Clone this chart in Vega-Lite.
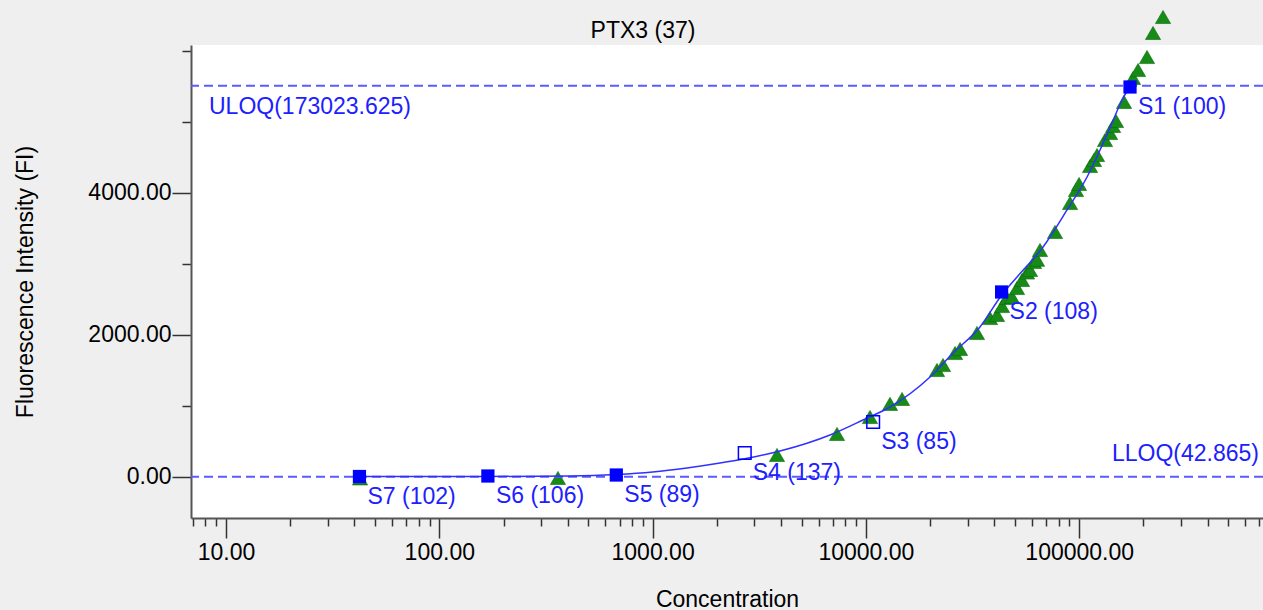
{
  "$schema": "https://vega.github.io/schema/vega-lite/v6.json",
  "width": 1072,
  "height": 473,
  "autosize": {"type": "none"},
  "padding": {"left": 191, "top": 45, "right": 0, "bottom": 92},
  "background": "#efefef",
  "config": {
    "font": "Liberation Sans",
    "view": {"fill": "white", "stroke": null}
  },
  "title": {
    "text": "PTX3 (37)",
    "fontSize": 23,
    "fontWeight": "normal",
    "color": "black",
    "anchor": "middle",
    "frame": "group",
    "dx": -84,
    "dy": 60,
    "offset": 8,
    "baseline": "alphabetic"
  },
  "datasets": {
    "limits": [
      {"limit": "ULOQ", "fi": 5512, "label": "ULOQ(173023.625)", "conc": 8.325},
      {"limit": "LLOQ", "fi": 4, "label": "LLOQ(42.865)", "conc": 696000}
    ],
    "curve": [
      {"conc": 42.24, "fi": 7},
      {"conc": 167.3, "fi": 7},
      {"conc": 410, "fi": 14},
      {"conc": 675.9, "fi": 35},
      {"conc": 1000, "fi": 70},
      {"conc": 1450, "fi": 127},
      {"conc": 2070, "fi": 197},
      {"conc": 2703.5, "fi": 258},
      {"conc": 3956, "fi": 366},
      {"conc": 6787, "fi": 592},
      {"conc": 9692, "fi": 803},
      {"conc": 12970, "fi": 986},
      {"conc": 19980, "fi": 1408},
      {"conc": 25610, "fi": 1746},
      {"conc": 34260, "fi": 2113},
      {"conc": 43256, "fi": 2560},
      {"conc": 51100, "fi": 2817},
      {"conc": 67670, "fi": 3239},
      {"conc": 87660, "fi": 3761},
      {"conc": 108800, "fi": 4225},
      {"conc": 125200, "fi": 4606},
      {"conc": 142500, "fi": 4986},
      {"conc": 158700, "fi": 5310},
      {"conc": 173024, "fi": 5500}
    ],
    "samples": [
      {"conc": 42.5, "fi": -20},
      {"conc": 360, "fi": -14},
      {"conc": 3830, "fi": 310},
      {"conc": 7320, "fi": 606},
      {"conc": 10450, "fi": 845},
      {"conc": 12970, "fi": 1030},
      {"conc": 14770, "fi": 1099},
      {"conc": 21540, "fi": 1507},
      {"conc": 22990, "fi": 1577},
      {"conc": 26170, "fi": 1746},
      {"conc": 27630, "fi": 1803},
      {"conc": 33170, "fi": 2028},
      {"conc": 38170, "fi": 2239},
      {"conc": 41180, "fi": 2282},
      {"conc": 43470, "fi": 2408},
      {"conc": 45870, "fi": 2521},
      {"conc": 48420, "fi": 2535},
      {"conc": 51100, "fi": 2662},
      {"conc": 53930, "fi": 2775},
      {"conc": 56930, "fi": 2880},
      {"conc": 58800, "fi": 2915},
      {"conc": 61400, "fi": 3028},
      {"conc": 63420, "fi": 3060},
      {"conc": 65500, "fi": 3197},
      {"conc": 77000, "fi": 3451},
      {"conc": 90560, "fi": 3859},
      {"conc": 96600, "fi": 4042},
      {"conc": 99800, "fi": 4127},
      {"conc": 112400, "fi": 4380},
      {"conc": 117300, "fi": 4465},
      {"conc": 121200, "fi": 4535},
      {"conc": 132100, "fi": 4746},
      {"conc": 139500, "fi": 4845},
      {"conc": 144100, "fi": 4944},
      {"conc": 148800, "fi": 5014},
      {"conc": 162200, "fi": 5282},
      {"conc": 178800, "fi": 5620},
      {"conc": 188700, "fi": 5732},
      {"conc": 207900, "fi": 5915},
      {"conc": 221800, "fi": 6254},
      {"conc": 247100, "fi": 6479}
    ],
    "standards": [
      {"name": "S1", "conc": 173023.625, "fi": 5493, "label": "S1 (100)", "status": "ok"},
      {"name": "S2", "conc": 43255.9, "fi": 2606, "label": "S2 (108)", "status": "ok"},
      {"name": "S3", "conc": 10813.98, "fi": 775, "label": "S3 (85)", "status": "excluded"},
      {"name": "S4", "conc": 2703.5, "fi": 338, "label": "S4 (137)", "status": "excluded"},
      {"name": "S5", "conc": 675.87, "fi": 28, "label": "S5 (89)", "status": "ok"},
      {"name": "S6", "conc": 168.97, "fi": 14, "label": "S6 (106)", "status": "ok"},
      {"name": "S7", "conc": 42.24, "fi": 7, "label": "S7 (102)", "status": "ok"}
    ]
  },
  "layer": [
    {
      "data": {"name": "samples"},
      "mark": {"type": "point", "shape": "triangle-up", "filled": true, "size": 230, "color": "#168c16", "stroke": "#0b660b", "strokeWidth": 0.6, "opacity": 1},
      "encoding": {
        "x": {
          "field": "conc", "type": "quantitative",
          "scale": {"type": "log", "domain": [6.855, 727000], "nice": false},
          "axis": {
            "title": "Concentration",
            "values": [7, 8, 9, 10, 20, 30, 40, 50, 60, 70, 80, 90, 100, 200, 300, 400, 500, 600, 700, 800, 900, 1000, 2000, 3000, 4000, 5000, 6000, 7000, 8000, 9000, 10000, 20000, 30000, 40000, 50000, 60000, 70000, 80000, 90000, 100000, 200000, 300000, 400000, 500000, 600000, 700000],
            "labelExpr": "abs(log(datum.value)/LN10 - round(log(datum.value)/LN10)) < 0.001 ? format(datum.value, '.2f') : ''",
            "tickSize": {"condition": {"test": "abs(log(datum.value)/LN10 - round(log(datum.value)/LN10)) < 0.001", "value": 20}, "value": 8},
            "tickColor": "#333", "tickWidth": 1.5,
            "domainColor": "#555", "domainWidth": 2,
            "labelFontSize": 23, "labelColor": "black", "labelPadding": 3,
            "labelFlush": false, "labelOverlap": false,
            "titleFontSize": 23, "titleFontWeight": "normal", "titleColor": "black", "titlePadding": 24,
            "grid": false
          }
        },
        "y": {
          "field": "fi", "type": "quantitative",
          "scale": {"domain": [-577.5, 6084.5], "nice": false, "zero": false},
          "axis": {
            "title": "Fluorescence Intensity (FI)",
            "values": [0, 1000, 2000, 3000, 4000, 5000, 6000],
            "labelExpr": "(datum.value === 0 || datum.value === 2000 || datum.value === 4000) ? format(datum.value, '.2f') : ''",
            "tickSize": {"condition": {"test": "datum.value === 0 || datum.value === 2000 || datum.value === 4000", "value": 19}, "value": 9},
            "tickColor": "#333", "tickWidth": 1.5,
            "domainColor": "#555", "domainWidth": 2,
            "labelFontSize": 23, "labelColor": "black", "labelPadding": 1,
            "labelOverlap": false,
            "titleFontSize": 23, "titleFontWeight": "normal", "titleColor": "black", "titlePadding": 50,
            "grid": false
          }
        }
      }
    },
    {
      "data": {"name": "limits"},
      "mark": {"type": "rule", "color": "#5b5bff", "strokeWidth": 2, "strokeDash": [9, 5]},
      "encoding": {
        "y": {"field": "fi", "type": "quantitative"}
      }
    },
    {
      "data": {"name": "curve"},
      "mark": {"type": "line", "color": "#3030ff", "strokeWidth": 1.5, "interpolate": "monotone"},
      "encoding": {
        "x": {"field": "conc", "type": "quantitative"},
        "y": {"field": "fi", "type": "quantitative"}
      }
    },
    {
      "data": {"name": "standards"},
      "transform": [{"filter": "datum.status === 'ok'"}],
      "mark": {"type": "point", "shape": "square", "filled": true, "size": 175, "color": "#0000ff", "opacity": 1},
      "encoding": {
        "x": {"field": "conc", "type": "quantitative"},
        "y": {"field": "fi", "type": "quantitative"}
      }
    },
    {
      "data": {"name": "standards"},
      "transform": [{"filter": "datum.status === 'excluded'"}],
      "mark": {"type": "point", "shape": "square", "filled": false, "size": 160, "color": "#0000ff", "strokeWidth": 1.5, "opacity": 1},
      "encoding": {
        "x": {"field": "conc", "type": "quantitative"},
        "y": {"field": "fi", "type": "quantitative"}
      }
    },
    {
      "data": {"name": "standards"},
      "mark": {"type": "text", "align": "left", "baseline": "middle", "dx": 8, "dy": 20, "fontSize": 23, "color": "#2020ff"},
      "encoding": {
        "x": {"field": "conc", "type": "quantitative"},
        "y": {"field": "fi", "type": "quantitative"},
        "text": {"field": "label"}
      }
    },
    {
      "data": {"name": "limits"},
      "transform": [{"filter": "datum.limit === 'ULOQ'"}],
      "mark": {"type": "text", "align": "left", "baseline": "middle", "dy": 21, "fontSize": 23, "color": "#2020ff"},
      "encoding": {
        "x": {"field": "conc", "type": "quantitative"},
        "y": {"field": "fi", "type": "quantitative"},
        "text": {"field": "label"}
      }
    },
    {
      "data": {"name": "limits"},
      "transform": [{"filter": "datum.limit === 'LLOQ'"}],
      "mark": {"type": "text", "align": "right", "baseline": "middle", "dy": -23, "fontSize": 23, "color": "#2020ff"},
      "encoding": {
        "x": {"field": "conc", "type": "quantitative"},
        "y": {"field": "fi", "type": "quantitative"},
        "text": {"field": "label"}
      }
    }
  ]
}
